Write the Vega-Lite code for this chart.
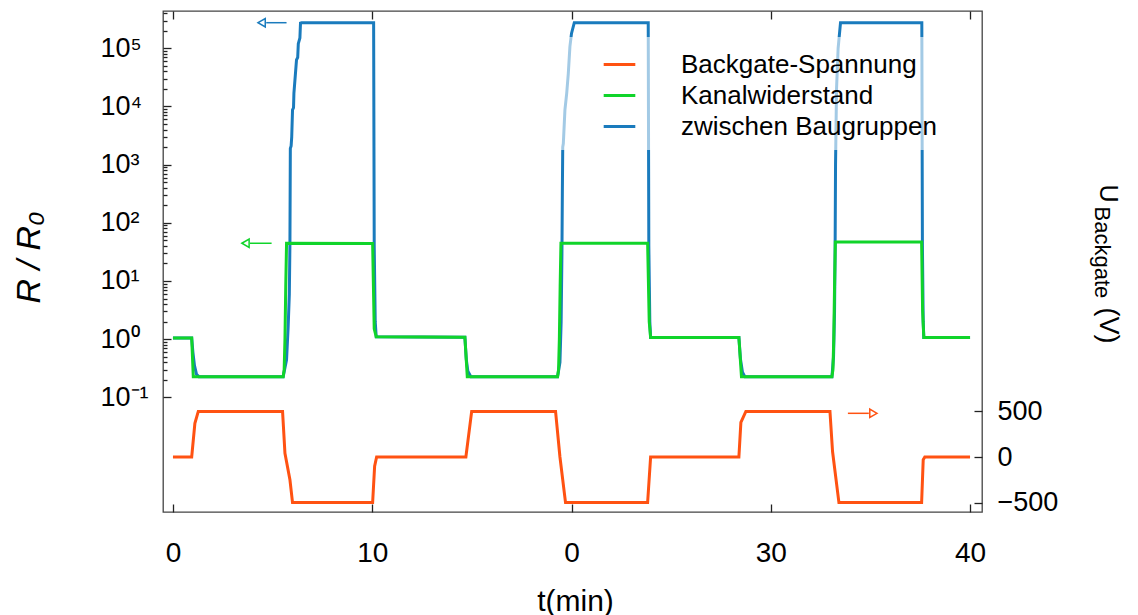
{
  "$schema": "https://vega.github.io/schema/vega-lite/v6.json",
  "width": 819,
  "height": 501,
  "autosize": {"type": "none"},
  "padding": {"left": 163, "top": 11, "right": 156, "bottom": 103},
  "config": {
    "font": "Liberation Sans",
    "view": {"stroke": "#444", "strokeWidth": 1.3},
    "axis": {"domain": false, "grid": false, "tickColor": "#222", "tickWidth": 1.3, "labelColor": "#000", "titleColor": "#000", "titleFontWeight": "normal", "labelFlush": false, "labelOverlap": false}
  },
  "datasets": {
    "blue": [
      {"t": 0, "r": 1.05, "s": "zwischen Baugruppen"}, {"t": 0.94, "r": 1.05, "s": "zwischen Baugruppen"}, {"t": 1.0, "r": 0.6, "s": "zwischen Baugruppen"}, {"t": 1.08, "r": 0.35, "s": "zwischen Baugruppen"}, {"t": 1.18, "r": 0.25, "s": "zwischen Baugruppen"}, {"t": 1.3, "r": 0.227, "s": "zwischen Baugruppen"},
      {"t": 5.53, "r": 0.227, "s": "zwischen Baugruppen"}, {"t": 5.7, "r": 0.44, "s": "zwischen Baugruppen"}, {"t": 5.78, "r": 1.6, "s": "zwischen Baugruppen"}, {"t": 5.84, "r": 6, "s": "zwischen Baugruppen"}, {"t": 5.87, "r": 44, "s": "zwischen Baugruppen"}, {"t": 5.89, "r": 1900, "s": "zwischen Baugruppen"}, {"t": 5.93, "r": 2100, "s": "zwischen Baugruppen"}, {"t": 5.96, "r": 3000, "s": "zwischen Baugruppen"}, {"t": 6.0, "r": 8700, "s": "zwischen Baugruppen"}, {"t": 6.05, "r": 9500, "s": "zwischen Baugruppen"}, {"t": 6.07, "r": 17000, "s": "zwischen Baugruppen"}, {"t": 6.12, "r": 28000, "s": "zwischen Baugruppen"}, {"t": 6.2, "r": 63000, "s": "zwischen Baugruppen"}, {"t": 6.26, "r": 70000, "s": "zwischen Baugruppen"}, {"t": 6.29, "r": 120000, "s": "zwischen Baugruppen"}, {"t": 6.37, "r": 150000, "s": "zwischen Baugruppen"}, {"t": 6.4, "r": 270000, "s": "zwischen Baugruppen"}, {"t": 6.46, "r": 275000, "s": "zwischen Baugruppen"},
      {"t": 10.07, "r": 275000, "s": "zwischen Baugruppen"}, {"t": 10.1, "r": 40, "s": "zwischen Baugruppen"}, {"t": 10.15, "r": 2, "s": "zwischen Baugruppen"}, {"t": 10.2, "r": 1.1, "s": "zwischen Baugruppen"},
      {"t": 14.65, "r": 1.08, "s": "zwischen Baugruppen"}, {"t": 14.72, "r": 0.45, "s": "zwischen Baugruppen"}, {"t": 14.8, "r": 0.28, "s": "zwischen Baugruppen"}, {"t": 14.95, "r": 0.227, "s": "zwischen Baugruppen"},
      {"t": 19.3, "r": 0.227, "s": "zwischen Baugruppen"}, {"t": 19.42, "r": 0.4, "s": "zwischen Baugruppen"}, {"t": 19.48, "r": 2, "s": "zwischen Baugruppen"}, {"t": 19.52, "r": 30, "s": "zwischen Baugruppen"}, {"t": 19.54, "r": 300, "s": "zwischen Baugruppen"}, {"t": 19.56, "r": 2000, "s": "zwischen Baugruppen"}, {"t": 19.59, "r": 2300, "s": "zwischen Baugruppen"}, {"t": 19.67, "r": 8700, "s": "zwischen Baugruppen"}, {"t": 19.76, "r": 17000, "s": "zwischen Baugruppen"}, {"t": 19.84, "r": 37000, "s": "zwischen Baugruppen"}, {"t": 19.92, "r": 107000, "s": "zwischen Baugruppen"}, {"t": 20.0, "r": 180000, "s": "zwischen Baugruppen"}, {"t": 20.14, "r": 275000, "s": "zwischen Baugruppen"},
      {"t": 23.85, "r": 275000, "s": "zwischen Baugruppen"}, {"t": 23.88, "r": 40, "s": "zwischen Baugruppen"}, {"t": 23.93, "r": 2, "s": "zwischen Baugruppen"}, {"t": 23.97, "r": 1.07, "s": "zwischen Baugruppen"},
      {"t": 28.4, "r": 1.07, "s": "zwischen Baugruppen"}, {"t": 28.48, "r": 0.45, "s": "zwischen Baugruppen"}, {"t": 28.58, "r": 0.27, "s": "zwischen Baugruppen"}, {"t": 28.7, "r": 0.227, "s": "zwischen Baugruppen"},
      {"t": 33.07, "r": 0.227, "s": "zwischen Baugruppen"}, {"t": 33.15, "r": 0.5, "s": "zwischen Baugruppen"}, {"t": 33.2, "r": 3, "s": "zwischen Baugruppen"}, {"t": 33.23, "r": 40, "s": "zwischen Baugruppen"}, {"t": 33.25, "r": 1000, "s": "zwischen Baugruppen"}, {"t": 33.3, "r": 20000, "s": "zwischen Baugruppen"}, {"t": 33.38, "r": 100000, "s": "zwischen Baugruppen"}, {"t": 33.5, "r": 275000, "s": "zwischen Baugruppen"},
      {"t": 37.58, "r": 275000, "s": "zwischen Baugruppen"}, {"t": 37.61, "r": 40, "s": "zwischen Baugruppen"}, {"t": 37.65, "r": 2, "s": "zwischen Baugruppen"}, {"t": 37.68, "r": 1.07, "s": "zwischen Baugruppen"}, {"t": 40.0, "r": 1.07, "s": "zwischen Baugruppen"}
    ],
    "green": [
      {"t": 0, "r": 1.05, "s": "Kanalwiderstand"}, {"t": 0.94, "r": 1.05, "s": "Kanalwiderstand"}, {"t": 1.02, "r": 0.227, "s": "Kanalwiderstand"},
      {"t": 5.53, "r": 0.227, "s": "Kanalwiderstand"}, {"t": 5.58, "r": 0.3, "s": "Kanalwiderstand"}, {"t": 5.62, "r": 1, "s": "Kanalwiderstand"}, {"t": 5.66, "r": 8, "s": "Kanalwiderstand"}, {"t": 5.7, "r": 44.5, "s": "Kanalwiderstand"},
      {"t": 10.02, "r": 44, "s": "Kanalwiderstand"}, {"t": 10.1, "r": 1.5, "s": "Kanalwiderstand"}, {"t": 10.2, "r": 1.1, "s": "Kanalwiderstand"},
      {"t": 14.65, "r": 1.08, "s": "Kanalwiderstand"}, {"t": 14.77, "r": 0.227, "s": "Kanalwiderstand"},
      {"t": 19.3, "r": 0.227, "s": "Kanalwiderstand"}, {"t": 19.35, "r": 0.3, "s": "Kanalwiderstand"}, {"t": 19.39, "r": 1, "s": "Kanalwiderstand"}, {"t": 19.43, "r": 8, "s": "Kanalwiderstand"}, {"t": 19.47, "r": 44.5, "s": "Kanalwiderstand"},
      {"t": 23.82, "r": 44.5, "s": "Kanalwiderstand"}, {"t": 23.9, "r": 2, "s": "Kanalwiderstand"}, {"t": 23.97, "r": 1.07, "s": "Kanalwiderstand"},
      {"t": 28.4, "r": 1.07, "s": "Kanalwiderstand"}, {"t": 28.53, "r": 0.227, "s": "Kanalwiderstand"},
      {"t": 33.07, "r": 0.227, "s": "Kanalwiderstand"}, {"t": 33.12, "r": 0.3, "s": "Kanalwiderstand"}, {"t": 33.16, "r": 1, "s": "Kanalwiderstand"}, {"t": 33.2, "r": 8, "s": "Kanalwiderstand"}, {"t": 33.24, "r": 47, "s": "Kanalwiderstand"},
      {"t": 37.57, "r": 47, "s": "Kanalwiderstand"}, {"t": 37.62, "r": 3, "s": "Kanalwiderstand"}, {"t": 37.68, "r": 1.07, "s": "Kanalwiderstand"}, {"t": 40.0, "r": 1.07, "s": "Kanalwiderstand"}
    ],
    "orange": [
      {"t": 0, "v": 0, "s": "Backgate-Spannung"}, {"t": 0.94, "v": 0, "s": "Backgate-Spannung"}, {"t": 1.1, "v": 370, "s": "Backgate-Spannung"}, {"t": 1.27, "v": 500, "s": "Backgate-Spannung"},
      {"t": 5.5, "v": 500, "s": "Backgate-Spannung"}, {"t": 5.62, "v": 40, "s": "Backgate-Spannung"}, {"t": 5.87, "v": -250, "s": "Backgate-Spannung"}, {"t": 6.0, "v": -500, "s": "Backgate-Spannung"},
      {"t": 10.02, "v": -500, "s": "Backgate-Spannung"}, {"t": 10.12, "v": -100, "s": "Backgate-Spannung"}, {"t": 10.22, "v": 0, "s": "Backgate-Spannung"},
      {"t": 14.7, "v": 0, "s": "Backgate-Spannung"}, {"t": 14.99, "v": 500, "s": "Backgate-Spannung"},
      {"t": 19.2, "v": 500, "s": "Backgate-Spannung"}, {"t": 19.42, "v": 0, "s": "Backgate-Spannung"}, {"t": 19.7, "v": -500, "s": "Backgate-Spannung"},
      {"t": 23.82, "v": -500, "s": "Backgate-Spannung"}, {"t": 23.97, "v": 0, "s": "Backgate-Spannung"},
      {"t": 28.4, "v": 0, "s": "Backgate-Spannung"}, {"t": 28.5, "v": 380, "s": "Backgate-Spannung"}, {"t": 28.75, "v": 500, "s": "Backgate-Spannung"},
      {"t": 32.97, "v": 500, "s": "Backgate-Spannung"}, {"t": 33.1, "v": 60, "s": "Backgate-Spannung"}, {"t": 33.42, "v": -500, "s": "Backgate-Spannung"},
      {"t": 37.57, "v": -500, "s": "Backgate-Spannung"}, {"t": 37.65, "v": -30, "s": "Backgate-Spannung"}, {"t": 37.73, "v": 0, "s": "Backgate-Spannung"}, {"t": 40.0, "v": 0, "s": "Backgate-Spannung"}
    ],
    "arrowsL": [
      {"s": "zwischen Baugruppen", "t": 5.7, "t2": 4.68, "t3": 4.45, "r": 275000},
      {"s": "Kanalwiderstand", "t": 4.95, "t2": 3.86, "t3": 3.64, "r": 44.5}
    ],
    "arrowR": [
      {"s": "Backgate-Spannung", "t": 33.87, "t2": 34.92, "t3": 35.15, "v": 479}
    ]
  },
  "resolve": {"scale": {"x": "independent", "y": "independent"}},
  "layer": [
    {
      "encoding": {
        "x": {"field": "t", "type": "quantitative", "scale": {"domain": [-0.5, 40.6], "nice": false, "zero": false},
          "axis": {"orient": "bottom", "values": [0, 10, 20, 30, 40], "tickSize": -8, "labelPadding": 35, "labelBaseline": "top", "labelFontSize": 28,
            "labelExpr": "datum.value == 20 ? '0' : datum.label",
            "title": "t(min)", "titleFontSize": 30, "titleX": 412, "titleY": 98, "titleAlign": "center", "titleBaseline": "alphabetic"}},
        "y": {"field": "r", "type": "quantitative", "scale": {"type": "log", "domain": [0.00107, 437000], "nice": false},
          "axis": {"orient": "left",
            "values": [0.1, 0.2, 0.3, 0.4, 0.5, 0.6, 0.7, 0.8, 0.9, 1, 2, 3, 4, 5, 6, 7, 8, 9, 10, 20, 30, 40, 50, 60, 70, 80, 90, 100, 200, 300, 400, 500, 600, 700, 800, 900, 1000, 2000, 3000, 4000, 5000, 6000, 7000, 8000, 9000, 10000, 20000, 30000, 40000, 50000, 60000, 70000, 80000, 90000, 100000, 200000, 300000, 400000],
            "tickSize": {"condition": {"test": "abs(log(datum.value)/LN10 - round(log(datum.value)/LN10)) < 0.001", "value": -8}, "value": -4},
            "labelExpr": "abs(log(datum.value)/LN10 - round(log(datum.value)/LN10)) < 0.001 ? '10' + ['⁻¹','⁰','¹','²','³','⁴','⁵'][round(log(datum.value)/LN10) + 1] : ''",
            "labelAlign": "left", "labelBaseline": "middle", "labelPadding": 71, "labelFontSize": 27,
            "title": "R / R₀", "titleFontSize": 34, "titleFontStyle": "italic", "titleAngle": 270, "titleX": -124, "titleY": 246, "titleAlign": "center", "titleBaseline": "alphabetic"}}
      },
      "layer": [
        {"data": {"name": "blue"}, "mark": {"type": "line", "strokeWidth": 3},
          "encoding": {"color": {"field": "s", "type": "nominal",
            "scale": {"domain": ["Backgate-Spannung", "Kanalwiderstand", "zwischen Baugruppen"], "range": ["#ff5212", "#10d42a", "#1a7bbd"]},
            "legend": {"orient": "none", "legendX": 397, "legendY": 26, "title": null, "symbolType": "stroke", "symbolStrokeWidth": 3, "symbolSize": 1000, "labelFontSize": 26, "labelOffset": 44, "symbolOffset": 32, "padding": 10, "rowPadding": 0, "fillColor": "rgba(255,255,255,0.6)", "labelLimit": 0}}}},
        {"data": {"name": "green"}, "mark": {"type": "line", "strokeWidth": 3},
          "encoding": {"color": {"field": "s", "type": "nominal"}}},
        {"data": {"name": "arrowsL"}, "mark": {"type": "rule", "strokeWidth": 1.5},
          "encoding": {"x2": {"field": "t2"}, "color": {"field": "s", "type": "nominal"}}},
        {"data": {"name": "arrowsL"}, "mark": {"type": "point", "shape": "triangle-left", "filled": false, "strokeWidth": 1.5, "size": 70, "opacity": 1},
          "encoding": {"x": {"field": "t3", "type": "quantitative"}, "color": {"field": "s", "type": "nominal"}}}
      ]
    },
    {
      "data": {"name": "orange"},
      "mark": {"type": "line", "strokeWidth": 3},
      "encoding": {
        "x": {"field": "t", "type": "quantitative", "scale": {"domain": [-0.5, 40.6], "nice": false, "zero": false},
          "axis": {"orient": "top", "values": [0, 10, 20, 30, 40], "tickSize": -8, "labels": false, "title": null}},
        "y": {"field": "v", "type": "quantitative", "scale": {"domain": [-603, 4890], "nice": false, "zero": false},
          "axis": {"orient": "right", "values": [-500, 0, 500], "tickSize": -8, "labelPadding": 23, "labelAlign": "left", "labelBaseline": "middle", "labelFontSize": 27,
            "title": "U", "titleFontSize": 25, "titleAngle": 90, "titleX": 117, "titleY": 173, "titleAlign": "left", "titleBaseline": "alphabetic"}},
        "color": {"field": "s", "type": "nominal"}
      }
    },
    {
      "data": {"name": "arrowR"},
      "mark": {"type": "rule", "strokeWidth": 1.5},
      "encoding": {
        "x": {"field": "t", "type": "quantitative", "scale": {"domain": [-0.5, 40.6], "nice": false, "zero": false}, "axis": null},
        "x2": {"field": "t2"},
        "y": {"field": "v", "type": "quantitative", "scale": {"domain": [-603, 4890], "nice": false, "zero": false},
          "axis": {"orient": "right", "labels": false, "ticks": false, "title": "Backgate", "titleFontSize": 22, "titleLimit": 0, "titleAngle": 90, "titleX": 112, "titleY": 195, "titleAlign": "left", "titleBaseline": "alphabetic"}},
        "color": {"field": "s", "type": "nominal"}
      }
    },
    {
      "data": {"name": "arrowR"},
      "mark": {"type": "point", "shape": "triangle-right", "filled": false, "strokeWidth": 1.5, "size": 70, "opacity": 1},
      "encoding": {
        "x": {"field": "t3", "type": "quantitative", "scale": {"domain": [-0.5, 40.6], "nice": false, "zero": false}, "axis": null},
        "y": {"field": "v", "type": "quantitative", "scale": {"domain": [-603, 4890], "nice": false, "zero": false},
          "axis": {"orient": "right", "labels": false, "ticks": false, "title": "(V)", "titleFontSize": 27, "titleAngle": 90, "titleX": 117, "titleY": 296, "titleAlign": "left", "titleBaseline": "alphabetic"}},
        "color": {"field": "s", "type": "nominal"}
      }
    }
  ]
}
